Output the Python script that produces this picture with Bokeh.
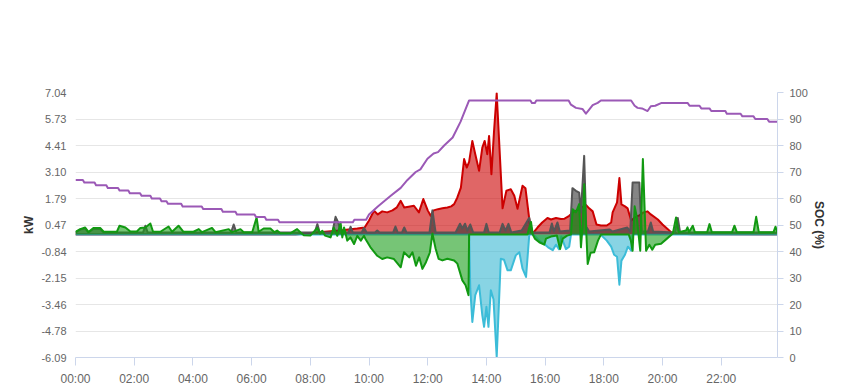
import numpy as np
from bokeh.plotting import figure
from bokeh.models import Range1d, LinearAxis, FixedTicker, CustomJSTickFormatter
from bokeh.embed import file_html
from bokeh.resources import INLINE

# ---------------- data (time in hours after midnight) ----------------
T_END = 23 + 55 / 60

pv_t = [0, 7.5, 7.8, 8.2, 8.6, 9.0, 9.3, 9.6, 9.85, 10.0, 10.17, 10.3, 10.45, 10.62, 10.8, 10.95,
        11.08, 11.2, 11.35, 11.53, 11.7, 11.85, 12.0, 12.1, 12.2, 12.35, 12.5, 12.67, 12.8, 12.9,
        13.01, 13.13, 13.24, 13.33, 13.41, 13.52, 13.62, 13.75, 13.86, 13.94, 14.03, 14.09, 14.17,
        14.26, 14.35, 14.55, 14.68, 14.83, 14.95, 15.06, 15.23, 15.33, 15.46, 15.52, 15.6, 15.74,
        15.9, 16.08, 16.2, 16.37, 16.54, 16.65, 16.82, 16.95, 17.16, 17.39, 17.5, 17.62, 17.75,
        17.9, 18.1, 18.25, 18.3, 18.45, 18.53, 18.6, 18.72, 18.81, 18.93, 19.1, 19.21, 19.35,
        19.49, 19.6, 19.84, 20.0, 20.18, 20.3, 20.5, 21.0, T_END]
pv_kw = [0, 0, 0.05, 0.1, 0.15, 0.2, 0.25, 0.3, 0.35, 0.7, 1.18, 1.0, 1.15, 1.1, 1.2, 1.35,
         1.67, 1.34, 1.38, 1.43, 1.1, 1.76, 1.2, 0.93, 1.2, 1.26, 1.3, 1.34, 1.4, 1.51,
         1.84, 2.33, 3.74, 3.32, 3.6, 4.64, 3.98, 3.16, 4.31, 4.64, 3.98, 4.89, 2.99,
         5.14, 7.0, 1.3, 2.17, 2.25, 1.92, 1.28, 2.42, 2.3, 0.77, 0.1, 0.1, 0.35,
         0.6, 0.82, 0.75, 0.82, 0.77, 0.78, 0.93, 1.1, 1.26, 1.47, 1.3, 1.15, 0.5,
         0.45, 0.45, 0.6, 1.1, 1.6, 2.8, 1.5, 1.4, 1.3, 0.7, 0.9, 0.95, 1.1,
         1.15, 1.0, 0.75, 0.5, 0.27, 0.1, 0.05, 0.02, 0.0]

imp_t = [0, 0.16, 0.33, 0.44, 0.61, 0.84, 0.96, 2.3, 2.38, 2.46, 5.3, 5.39, 5.48, 8.15, 8.24, 8.32,
         8.75, 8.86, 8.95, 9.05, 9.3, 9.37, 9.45, 9.75, 9.83, 9.92, 10.2, 10.28, 10.36, 10.82, 10.9,
         10.98, 11.12, 11.2, 11.28, 12.06, 12.16, 12.27, 12.95, 13.1, 13.18, 13.27, 13.35, 13.45,
         13.55, 13.92, 14.0, 14.08, 14.45, 14.55, 14.65, 14.75, 14.85, 15.2, 15.46, 15.56, 16.15,
         16.23, 16.3, 16.42, 16.5, 16.85, 16.93, 17.05, 17.16, 17.22, 17.33, 17.4, 17.5, 18.2,
         18.3, 18.8, 18.9, 18.98, 19.21, 19.25, 19.3, 19.5, 19.6, 19.68, 20.42, 20.52, 20.6, T_END]
imp_kw = [0.1, 0.25, 0.3, 0.1, 0.28, 0.28, 0.1, 0.1, 0.44, 0.1, 0.1, 0.5, 0.1, 0.1, 0.52, 0.1,
          0.1, 0.88, 0.6, 0.1, 0.1, 0.39, 0.1, 0.1, 0.33, 0.1, 0.1, 0.2, 0.1, 0.1, 0.4,
          0.1, 0.1, 0.35, 0.1, 0.1, 1.2, 0.1, 0.1, 0.54, 0.3, 0.54, 0.2, 0.5,
          0.1, 0.1, 0.53, 0.1, 0.1, 0.53, 0.2, 0.53, 0.1, 0.2, 0.83, 0.1, 0.1,
          0.55, 0.15, 0.6, 0.15, 0.2, 2.3, 2.17, 2.08, 1.1, 3.9, 0.4, 0.15, 0.25,
          0.15, 0.35, 0.15, 2.58, 2.58, 1.2, 0.15, 0.15, 0.6, 0.15, 0.1, 0.82, 0.1, 0.1]

bat_t = [0, 0.16, 0.33, 0.44, 0.61, 0.84, 0.96, 1.41, 1.5, 1.7, 1.87, 2.09, 2.21, 2.38, 2.55, 2.64,
         2.89, 3.17, 3.29, 3.51, 3.68, 4.02, 4.2, 4.31, 4.65, 4.77, 5.22, 5.34, 5.62, 5.73, 6.02,
         6.17, 6.24, 6.41, 6.64, 6.78, 6.87, 6.98, 7.33, 7.55, 7.67, 7.78, 8.0, 8.24, 8.33, 8.41,
         8.5, 8.69, 8.8, 8.92, 9.03, 9.09, 9.15, 9.26, 9.37, 9.49, 9.6, 9.72, 9.83, 9.88, 10.05,
         10.28, 10.45, 10.62, 10.85, 11.08, 11.19, 11.37, 11.48, 11.6, 11.71, 11.82, 11.94, 12.07,
         12.16, 12.27, 12.37, 12.5, 12.67, 12.9, 13.01, 13.18, 13.29, 13.39, 13.41, 15.4, 15.45,
         15.52, 15.58, 15.65, 15.8, 15.97, 16.03, 16.2, 16.4, 16.51, 16.6, 16.75, 16.88, 16.94,
         17.05, 17.16, 17.22, 17.28, 17.33, 17.45, 17.55, 17.67, 17.8, 17.9, 18.85, 18.92, 18.98,
         19.05, 19.12, 19.24, 19.33, 19.44, 19.55, 19.65, 19.75, 19.95, 20.15, 20.35, 20.46,
         20.55, 20.8, 20.85, 20.9, 21.03, 21.1, 21.52, 21.6, 21.68, 22.37, 22.45, 22.53, 23.1,
         23.19, 23.28, 23.78, 23.85, T_END]
bat_kw = [0.13, 0.27, 0.35, 0.13, 0.33, 0.33, 0.14, 0.14, 0.44, 0.35, 0.15, 0.15, 0.33, 0.35, 0.55, 0.15,
          0.14, 0.4, 0.14, 0.44, 0.14, 0.14, 0.27, 0.12, 0.33, 0.12, 0.27, 0.12, 0.27, 0.12, 0.12,
          0.85, 0.14, 0.3, 0.3, 0.12, 0.2, 0.07, 0.07, 0.27, 0.1, -0.03, -0.05, 0.33, 0.05, 0.19,
          -0.05, -0.14, 0.35, -0.06, 0.6, -0.14, 0.35, -0.3, -0.14, -0.47, -0.06, -0.3, -0.06, -0.22, -0.63,
          -1.05, -1.21, -1.13, -1.21, -1.62, -0.88, -1.13, -0.88, -1.54, -1.13, -1.7, -1.37, -0.9,
          0.05, -0.7, -1.2, -1.28, -1.2, -1.28, -1.44, -2.27, -2.51, -3.0, 0.0, 0.0, 0.3,
          0.62, 0.0, -0.2, -0.38, -0.5, -0.2, -0.1, -0.05, -0.72, -0.2, -0.05, 0.0, 1.26,
          1.1, 1.51, -0.63, 0.5, 2.5, -1.46, -0.9, -0.88, -0.3, 0.0, 0.0, -0.3, -0.8,
          1.4, 0.9, -0.8, 3.74, -0.8, -0.5, -0.75, -0.5, -0.45, -0.2, 0.05, 0.85,
          0.12, 0.2, 0.36, 0.12, 0.44, 0.12, 0.12, 0.52, 0.12, 0.12, 0.44, 0.12, 0.12,
          0.88, 0.12, 0.12, 0.39, 0.1]

exp_t = [0, 13.41, 13.45, 13.52, 13.62, 13.75, 13.86, 13.92, 14.0, 14.07, 14.15, 14.24, 14.35,
         14.49, 14.6, 14.72, 14.83, 15.0, 15.12, 15.23, 15.35, 15.46, 15.6, 15.74, 15.85, 15.97,
         16.1, 16.26, 16.37, 16.47, 16.55, 16.71, 16.82, 16.88, 17.9, 17.96, 18.1, 18.25, 18.35,
         18.45, 18.53, 18.6, 18.72, 18.82, 18.93, 18.98, T_END]
exp_kw = [0, 0, -2.68, -4.33, -3.0, -2.51, -4.0, -4.57, -3.58, -4.57, -2.76, -3.2, -6.06,
          -1.2, -1.25, -1.77, -1.77, -1.03, -0.87, -1.69, -2.1, 0.0, 0.0, -0.2, -0.35, -0.47,
          -0.63, -0.77, -0.5, -0.72, -0.1, -0.72, -0.6, 0.0, 0.0, -0.1, -0.3, -0.6, -1.0,
          -1.1, -2.48, -1.29, -1.0, -0.6, -0.8, 0.0, 0.0]

soc_t = [0, 0.25, 0.3, 0.65, 0.7, 1.05, 1.1, 1.45, 1.5, 1.8, 1.85, 2.2, 2.25, 2.55, 2.6, 2.88, 2.93,
         3.1, 3.15, 3.6, 3.65, 4.3, 4.35, 4.97, 5.02, 5.45, 5.5, 6.1, 6.15, 6.45, 6.5, 6.9, 6.95,
         9.45, 9.5, 9.9, 10.0, 10.3, 10.74, 11.08, 11.31, 11.59, 11.75, 11.99, 12.2, 12.35, 12.56,
         12.85, 13.12, 13.3, 13.41, 15.5, 15.55, 15.65, 15.7, 16.8, 16.88, 17.05, 17.27, 17.39,
         17.5, 17.62, 17.79, 17.9, 18.93, 19.05, 19.15, 19.3, 19.49, 19.6, 19.75, 19.95, 20.86,
         20.92, 21.26, 21.32, 21.6, 21.66, 22.14, 22.19, 22.66, 22.72, 23.1, 23.16, 23.57, 23.63,
         T_END]
soc_pct = [67, 67, 66, 66, 65, 65, 64, 64, 63, 63, 62, 62, 61, 61, 60, 60, 59,
           59, 58, 58, 57, 57, 56, 56, 55, 55, 54, 54, 53, 53, 52, 52, 51,
           51, 52, 52, 54, 57, 61, 64, 67, 70, 71, 75, 77, 77.5, 80,
           83, 89, 94, 97, 97, 96, 96, 97, 97, 95.4, 94.2, 93.8, 92,
           93.5, 95.2, 96.1, 97, 97, 95, 94.2, 94, 93, 94.8, 95, 96, 96,
           95, 95, 94, 94, 93, 93, 92, 92, 91, 91, 90, 90, 89, 89]

x_tick_hours = [0, 2, 4, 6, 8, 10, 12, 14, 16, 18, 20, 22]
x_tick_labels = ["00:00", "02:00", "04:00", "06:00", "08:00", "10:00",
                 "12:00", "14:00", "16:00", "18:00", "20:00", "22:00"]
KW_MIN, KW_MAX = -6.09, 7.04
kw_tick_labels = ["-6.09", "-4.78", "-3.46", "-2.15", "-0.84", "0.47",
                  "1.79", "3.10", "4.41", "5.73", "7.04"]
soc_ticks = [0, 10, 20, 30, 40, 50, 60, 70, 80, 90, 100]

# ---------------- figure ----------------
FONT = "Liberation Sans"
p = figure(frame_width=702, frame_height=265,
           min_border_left=75, min_border_right=64, min_border_top=92, min_border_bottom=29,
           x_range=Range1d(0, T_END), y_range=Range1d(KW_MIN, KW_MAX),
           output_backend="svg", toolbar_location=None,
           background_fill_color="white", border_fill_color="white")
p.outline_line_color = None
p.extra_y_ranges = {"soc": Range1d(0, 100)}

kw_ticks = [float(v) for v in np.linspace(KW_MIN, KW_MAX, len(kw_tick_labels))]
nearest_code = """
let b = 0;
for (let i = 0; i < pos.length; i++) {
  if (Math.abs(pos[i] - tick) < Math.abs(pos[b] - tick)) { b = i; }
}
return labels[b];
"""

# x axis
xa = p.xaxis[0]
xa.ticker = FixedTicker(ticks=x_tick_hours)
xa.formatter = CustomJSTickFormatter(args=dict(pos=x_tick_hours, labels=x_tick_labels), code=nearest_code)
xa.axis_line_color = "#ccd6eb"
xa.major_tick_line_color = "#ccd6eb"
xa.major_tick_out = 8
xa.major_tick_in = 0
xa.minor_tick_line_color = None
xa.major_label_standoff = 6
xa.major_label_text_font = FONT
xa.major_label_text_font_size = "12px"
xa.major_label_text_color = "#666666"

# left axis
ya = p.yaxis[0]
ya.ticker = FixedTicker(ticks=kw_ticks)
ya.formatter = CustomJSTickFormatter(args=dict(pos=kw_ticks, labels=kw_tick_labels), code=nearest_code)
ya.axis_line_color = None
ya.major_tick_line_color = None
ya.minor_tick_line_color = None
ya.major_tick_out = 0
ya.major_tick_in = 0
ya.major_label_standoff = 9
ya.major_label_text_font = FONT
ya.major_label_text_font_size = "11px"
ya.major_label_text_color = "#666666"
ya.axis_label = "kW"
ya.axis_label_text_font = FONT
ya.axis_label_text_font_size = "12px"
ya.axis_label_text_font_style = "bold"
ya.axis_label_text_color = "#333333"
ya.axis_label_standoff = 2

# right axis
ra = LinearAxis(y_range_name="soc", ticker=FixedTicker(ticks=soc_ticks))
ra.axis_line_color = "#ccd6eb"
ra.major_tick_line_color = "#ccd6eb"
ra.major_tick_out = 6
ra.major_tick_in = 0
ra.minor_tick_line_color = None
ra.major_label_standoff = 6
ra.major_label_text_font = FONT
ra.major_label_text_font_size = "11px"
ra.major_label_text_color = "#666666"
ra.axis_label = "SOC (%)"
ra.axis_label_text_font = FONT
ra.axis_label_text_font_size = "12px"
ra.axis_label_text_font_style = "bold"
ra.axis_label_text_color = "#333333"
ra.axis_label_standoff = 1
p.add_layout(ra, "right")

p.xgrid.grid_line_color = None
p.ygrid.ticker = FixedTicker(ticks=kw_ticks)
p.ygrid.grid_line_color = "#e6e6e6"
p.ygrid.grid_line_width = 1

# ---------------- series ----------------
def area(t, v, fill, line):
    p.varea(x=t, y1=0, y2=v, fill_color=fill, fill_alpha=0.6)
    p.line(t, v, line_color=line, line_width=2, line_join="round")

area(pv_t, pv_kw, "#cc0000", "#cc0000")
area(exp_t, exp_kw, "#39b7d2", "#3cbcd8")
area(imp_t, imp_kw, "#333333", "#555555")
area(bat_t, bat_kw, "#1a9e1a", "#119911")
p.line(soc_t, soc_pct, y_range_name="soc", line_color="#9b59b6", line_width=2, line_join="round")

open("out.html", "w").write(file_html(p, INLINE))
